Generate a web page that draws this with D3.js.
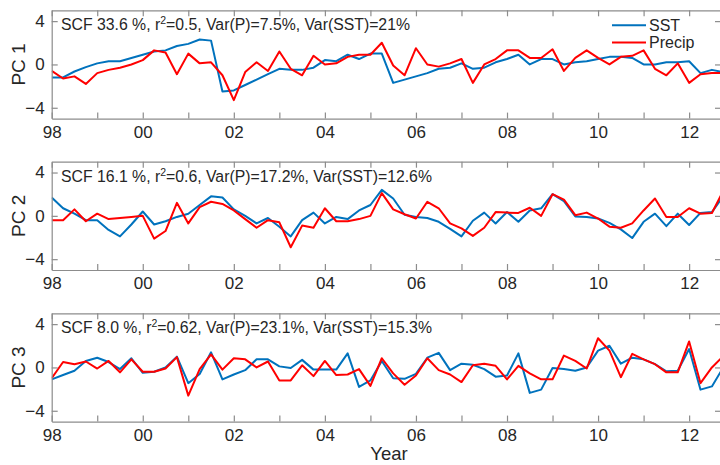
<!DOCTYPE html>
<html>
<head>
<meta charset="utf-8">
<script src="https://d3js.org/d3.v7.min.js"></script>
<style>
  html, body { margin: 0; padding: 0; background: #fff; }
  svg { font-family: 'Liberation Sans', Arial, Helvetica, sans-serif; }
</style>
</head>
<body>
<div id="chart"></div>
<script>
// quarterly PC time series, 1998 Q1 .. 2012 Q4
const startYear = 1998
const nQuarters = 60

const sstPC1 = [-1.2,-1.2,-0.65,-0.25,0.1,0.3,0.3,0.6,0.9,1.2,1.3,1.7,1.9,2.3,2.2,-2.5,-2.4,-1.9,-1.4,-0.9,
  -0.4,-0.5,-0.5,-0.3,0.4,0.3,0.9,0.5,1.0,1.0,-1.7,-1.4,-1.1,-0.8,-0.4,-0.3,0.1,-0.4,-0.3,0.2,
  0.5,0.9,0.0,0.5,0.5,0.0,0.2,0.3,0.5,0.7,0.7,0.6,0.0,0.0,0.2,0.2,0.3,-0.8,-0.5,-0.7]
const precipPC1 = [-0.6,-1.3,-1.1,-1.8,-0.8,-0.5,-0.3,0.0,0.4,1.3,1.1,-0.9,1.0,0.1,0.2,-1.0,-3.3,-0.7,0.2,-0.6,
  1.2,-0.4,-1.0,0.8,0.0,0.1,0.7,0.9,0.9,2.0,-0.1,-1.0,1.5,0.0,-0.2,0.1,0.5,-1.7,0.0,0.5,
  1.3,1.3,0.6,0.6,1.4,-0.6,0.6,1.3,0.6,0.0,0.7,0.8,1.3,-0.4,-1.0,0.1,-1.7,-0.9,-0.8,-0.8]

const sstPC2 = [1.7,0.7,0.2,-0.4,-0.4,-1.3,-1.9,-0.8,0.4,-0.8,-0.5,-0.1,0.2,1.0,1.8,1.7,0.6,0.0,-0.7,-0.2,
  -1.0,-1.9,-0.4,0.3,-0.7,-0.1,-0.3,0.5,1.0,2.4,1.6,0.1,-0.1,-0.2,-0.55,-1.2,-1.9,-0.45,0.3,-0.7,
  0.35,-0.55,0.5,0.7,2.0,1.35,-0.05,-0.1,-0.25,-0.65,-1.25,-2.05,-0.55,0.2,-0.95,0.2,-0.85,0.27,0.35,1.8]
const precipPC2 = [-0.4,-0.4,0.6,-0.5,0.2,-0.3,-0.2,-0.1,0.0,-2.1,-1.4,1.2,-0.7,0.8,1.3,1.1,0.5,-0.3,-1.1,-0.4,
  -0.6,-2.9,-0.9,-1.1,0.7,-0.5,-0.5,-0.3,0.0,2.1,0.6,0.15,-0.25,1.3,0.7,-0.7,-1.15,-1.85,-1.1,0.35,
  0.3,0.27,0.75,0.0,2.0,1.5,0.06,0.3,-0.25,-1.0,-1.1,-0.7,0.5,1.6,-0.1,-0.1,0.7,0.2,0.27,2.3]

const sstPC3 = [-1.1,-0.7,-0.3,0.6,0.9,0.5,-0.15,0.85,-0.5,-0.4,0.0,1.0,-1.45,-0.6,1.4,-1.1,-0.65,-0.25,0.75,0.75,
  0.1,-0.05,0.7,-0.2,-0.2,-0.2,1.3,-1.8,-1.2,0.6,-1.0,-1.05,-0.6,0.9,1.35,-0.25,0.35,0.25,-0.15,-0.85,
  -0.75,1.3,-2.35,-2.05,-0.05,-0.15,-0.3,0.0,1.55,2.0,0.35,0.9,0.75,0.3,-0.35,-0.3,1.7,-2.05,-1.75,0.0]
const precipPC3 = [-1.0,0.5,0.3,0.55,-0.1,0.6,-0.45,0.75,-0.4,-0.4,-0.1,0.95,-2.6,-0.15,1.2,-0.2,0.85,0.75,0.0,0.55,
  -1.2,-1.2,0.2,-0.8,0.6,-0.7,-0.65,-0.15,-1.7,0.85,-0.55,-1.6,-0.75,0.85,-0.25,-0.65,-1.35,0.2,0.35,0.15,
  -1.1,0.15,-0.55,-1.1,-1.1,1.1,0.6,-0.1,2.7,1.55,-0.9,1.25,0.75,0.3,-0.45,-0.45,2.4,-1.45,0.0,1.05]

const pcNames = ['PC 1', 'PC 2', 'PC 3']
const scfValues = ['33.6', '16.1', '8.0']
const r2Values = ['0.5', '0.6', '0.62']
const varPValues = ['7.5', '17.2', '23.1']
const varSSTValues = ['21', '12.6', '15.3']

const xTickYears = [1998,1999,2000,2001,2002,2003,2004,2005,2006,2007,2008,2009,2010,2011,2012]
const yTickValues = [-4, 0, 4]
const seriesNames = ['SST', 'Precip']

const sstSeries = [sstPC1, sstPC2, sstPC3]
const precipSeries = [precipPC1, precipPC2, precipPC3]

const quarters = d3.range(nQuarters).map(i => startYear + i / 4)

const W = 720, H = 465
const blue = '#0072BD', red = '#FF0000'
const axisGrey = '#8c8c8c', textCol = '#262626'

const svg = d3.select('#chart').append('svg')
  .attr('width', W).attr('height', H)

const x = d3.scaleLinear().domain([1998, 2012.7]).range([51.7, 721])
const panelTop = [10.3, 161.7, 313.3]
const panelH = 108.3

const line = y => d3.line().x((d, i) => x(quarters[i])).y(d => y(d))

panelTop.forEach((top, p) => {
  const y = d3.scaleLinear().domain([-5, 5]).range([top + panelH, top])
  const g = svg.append('g')

  // clip area for the lines
  g.append('clipPath').attr('id', 'clip' + p)
    .append('rect')
    .attr('x', x.range()[0]).attr('y', top)
    .attr('width', x.range()[1] - x.range()[0]).attr('height', panelH)

  const lines = g.append('g').attr('clip-path', `url(#clip${p})`)
  lines.append('path').datum(sstSeries[p])
    .attr('d', line(y)).attr('fill', 'none')
    .attr('stroke', blue).attr('stroke-width', 2).attr('stroke-linejoin', 'round')
  lines.append('path').datum(precipSeries[p])
    .attr('d', line(y)).attr('fill', 'none')
    .attr('stroke', red).attr('stroke-width', 2).attr('stroke-linejoin', 'round')

  // axes (ticks pointing inwards, box all around)
  const fmt = d => (d % 2 === 0 ? String(d).slice(2) : '')
  const axB = g.append('g').attr('transform', `translate(0,${top + panelH})`)
    .call(d3.axisBottom(x).tickValues(xTickYears).tickFormat(fmt).tickSizeInner(-6).tickSizeOuter(0).tickPadding(7))
  const axT = g.append('g').attr('transform', `translate(0,${top})`)
    .call(d3.axisTop(x).tickValues(xTickYears).tickFormat('').tickSizeInner(-6).tickSizeOuter(0))
  const axL = g.append('g').attr('transform', `translate(${x.range()[0]},0)`)
    .call(d3.axisLeft(y).tickValues(yTickValues).tickSizeInner(-6).tickSizeOuter(0).tickPadding(7))
  const axR = g.append('g').attr('transform', `translate(${x.range()[1]},0)`)
    .call(d3.axisRight(y).tickValues(yTickValues).tickFormat('').tickSizeInner(-6).tickSizeOuter(0))

  ;[axB, axT, axL, axR].forEach(a => {
    a.select('.domain').attr('stroke', axisGrey).attr('stroke-width', 1.2)
    a.selectAll('.tick line').attr('stroke', axisGrey).attr('stroke-width', 1.2)
    a.selectAll('text').attr('fill', textCol).attr('font-size', '17px')
      .attr('font-family', "'Liberation Sans', Arial, Helvetica, sans-serif")
  })

  // y label
  g.append('text')
    .attr('transform', `translate(25,${top + panelH / 2}) rotate(-90)`)
    .attr('text-anchor', 'middle')
    .attr('font-size', '19px').attr('fill', textCol)
    .text(pcNames[p])

  // stats text
  const t = g.append('text')
    .attr('x', 61).attr('y', top + 20)
    .attr('font-size', '15.8px').attr('fill', textCol)
  t.append('tspan').text(`SCF ${scfValues[p]} %, r`)
  t.append('tspan').attr('font-size', '10.5px').attr('dy', -6).text('2')
  t.append('tspan').attr('dy', 6).text(`=${r2Values[p]}, Var(P)=${varPValues[p]}%, Var(SST)=${varSSTValues[p]}%`)
})

// legend
const leg = svg.append('g')
;[blue, red].forEach((c, i) => {
  const ly = 25.2 + i * 17.2
  leg.append('line').attr('x1', 612).attr('x2', 646).attr('y1', ly).attr('y2', ly)
    .attr('stroke', c).attr('stroke-width', 2)
  leg.append('text').attr('x', 649).attr('y', ly + 5.3)
    .attr('font-size', '16px').attr('fill', textCol).text(seriesNames[i])
})

// x label
svg.append('text')
  .attr('x', 389).attr('y', 460)
  .attr('text-anchor', 'middle')
  .attr('font-size', '18.5px').attr('fill', textCol)
  .text('Year')
</script>
</body>
</html>
